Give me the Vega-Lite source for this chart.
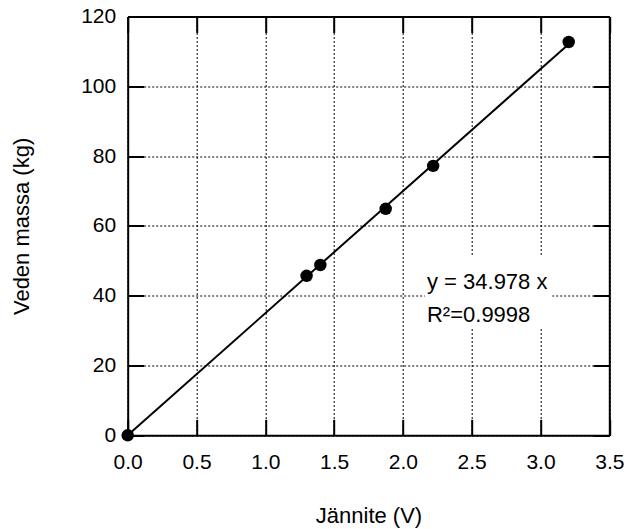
{
  "$schema": "https://vega.github.io/schema/vega-lite/v6.json",
  "autosize": "none",
  "width": 481.6,
  "height": 418.8,
  "padding": {"left": 127.7, "top": 16.5, "right": 18.7, "bottom": 93.7},
  "background": "white",
  "config": {
    "font": "Liberation Sans",
    "view": {"stroke": null},
    "axis": {
      "domainColor": "black",
      "domainWidth": 2,
      "tickColor": "black",
      "tickWidth": 2,
      "tickSize": 16,
      "labelColor": "black",
      "labelFontSize": 21,
      "labelFont": "Liberation Sans",
      "titleFont": "Liberation Sans",
      "titleFontSize": 22,
      "titleFontWeight": "normal",
      "titleColor": "black",
      "gridColor": "black",
      "gridWidth": 1,
      "gridDash": [2, 2],
      "gridOpacity": 1
    }
  },
  "datasets": {
    "measurements": [
      {"voltage": 0.0, "mass": 0.0},
      {"voltage": 1.3, "mass": 45.7},
      {"voltage": 1.4, "mass": 48.8},
      {"voltage": 1.875, "mass": 64.9},
      {"voltage": 2.22, "mass": 77.2},
      {"voltage": 3.205, "mass": 112.7}
    ],
    "fit": [
      {"voltage": 0.0, "mass": 0.0},
      {"voltage": 3.2, "mass": 111.93}
    ]
  },
  "resolve": {"axis": {"x": "independent", "y": "independent"}},
  "layer": [
    {
      "description": "Inward ticks along the top and right edges, plus the top and right frame lines",
      "data": {"values": [{}]},
      "mark": {"type": "point", "opacity": 0},
      "encoding": {
        "x": {
          "datum": 0, "type": "quantitative",
          "axis": {
            "orient": "bottom", "offset": -418.8, "title": null, "labels": false,
            "grid": false, "domain": true,
            "values": [0, 0.5, 1, 1.5, 2, 2.5, 3, 3.5]
          }
        },
        "y": {
          "datum": 0, "type": "quantitative",
          "axis": {
            "orient": "left", "offset": -481.6, "title": null, "labels": false,
            "grid": false, "domain": true,
            "values": [0, 20, 40, 60, 80, 100, 120]
          }
        }
      }
    },
    {
      "description": "Inward ticks along the bottom and left edges",
      "data": {"values": [{}]},
      "mark": {"type": "point", "opacity": 0},
      "encoding": {
        "x": {
          "datum": 0, "type": "quantitative",
          "axis": {
            "orient": "top", "offset": -418.8, "title": null, "labels": false,
            "grid": false, "domain": false,
            "values": [0, 0.5, 1, 1.5, 2, 2.5, 3, 3.5]
          }
        },
        "y": {
          "datum": 0, "type": "quantitative",
          "axis": {
            "orient": "right", "offset": -481.6, "title": null, "labels": false,
            "grid": false, "domain": false,
            "values": [0, 20, 40, 60, 80, 100, 120]
          }
        }
      }
    },
    {
      "data": {"name": "fit"},
      "mark": {"type": "line", "color": "black", "strokeWidth": 2},
      "encoding": {
        "x": {
          "field": "voltage", "type": "quantitative",
          "scale": {"domain": [0, 3.5], "nice": false},
          "axis": {
            "orient": "bottom",
            "title": "Jännite (V)",
            "values": [0, 0.5, 1, 1.5, 2, 2.5, 3, 3.5],
            "format": ".1f",
            "grid": true,
            "ticks": false,
            "tickSize": 0,
            "labelPadding": 16,
            "labelFlush": false,
            "titleY": 87,
            "titleBaseline": "alphabetic"
          }
        },
        "y": {
          "field": "mass", "type": "quantitative",
          "scale": {"domain": [0, 120], "nice": false},
          "axis": {
            "orient": "left",
            "title": "Veden massa (kg)",
            "values": [0, 20, 40, 60, 80, 100, 120],
            "grid": true,
            "ticks": false,
            "tickSize": 0,
            "labelPadding": 12,
            "labelFlush": false,
            "titleX": -106,
            "titleBaseline": "middle"
          }
        }
      }
    },
    {
      "data": {"name": "measurements"},
      "mark": {"type": "point", "filled": true, "color": "black", "opacity": 1, "size": 155},
      "encoding": {
        "x": {"field": "voltage", "type": "quantitative", "axis": null},
        "y": {"field": "mass", "type": "quantitative", "axis": null}
      }
    },
    {
      "data": {"values": [{}]},
      "mark": {"type": "rect", "fill": "white"},
      "encoding": {
        "x": {"datum": 2.16, "type": "quantitative", "axis": null},
        "x2": {"datum": 3.085},
        "y": {"datum": 30.7, "type": "quantitative", "axis": null},
        "y2": {"datum": 51.1}
      }
    },
    {
      "data": {"values": [{}]},
      "mark": {"type": "text", "align": "left", "baseline": "alphabetic", "fontSize": 22, "color": "black"},
      "encoding": {
        "x": {"datum": 2.175, "type": "quantitative", "axis": null},
        "y": {"datum": 41.9, "type": "quantitative", "axis": null},
        "text": {"value": "y = 34.978 x"}
      }
    },
    {
      "data": {"values": [{}]},
      "mark": {"type": "text", "align": "left", "baseline": "alphabetic", "fontSize": 22, "color": "black"},
      "encoding": {
        "x": {"datum": 2.175, "type": "quantitative", "axis": null},
        "y": {"datum": 32.55, "type": "quantitative", "axis": null},
        "text": {"value": "R²=0.9998"}
      }
    }
  ]
}
